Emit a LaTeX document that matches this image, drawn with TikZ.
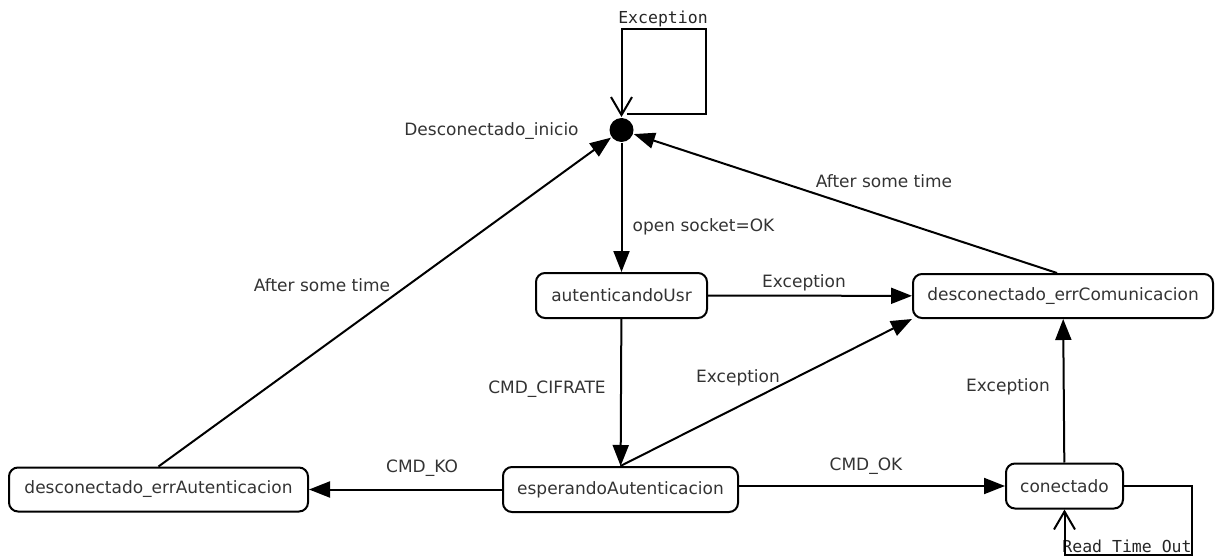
\documentclass[tikz,border=0pt]{standalone}
\usepackage{fontspec}
\setmainfont{DejaVu Sans}
\setmonofont{DejaVu Sans Mono}
\usetikzlibrary{arrows.meta}
\begin{document}
\begin{tikzpicture}[x=1pt,y=-1pt, line width=2pt,
  state/.style={draw, rounded corners=9pt, minimum height=45pt, inner sep=0pt,
    font=\fontsize{17}{20}\selectfont, text=black!80},
  lbl/.style={font=\fontsize{17}{20}\selectfont, text=black!80, inner sep=0pt},
  mlbl/.style={font=\ttfamily\fontsize{16.5}{20}\selectfont, text=black!85, inner sep=0pt},
  arr/.style={-{Triangle[length=21pt,width=16pt]}},
  oarr/.style={-{Straight Barb[length=18pt,width=21pt]}}]
\useasboundingbox (0,0) rectangle (1226,556);

% nodes
\node[circle, fill, minimum size=24pt, inner sep=0pt] (dot) at (621.5,130) {};
\node[state, minimum width=171pt] (auth) at (621.5,295.5) {autenticandoUsr};
\node[state, minimum width=300pt, minimum height=44pt] (errCom) at (1063,296) {desconectado\_errComunicacion};
\node[state, minimum width=235pt] (esp) at (620.5,489.5) {esperandoAutenticacion};
\node[state, minimum width=299pt, minimum height=44pt] (errAuth) at (158.5,489.5) {desconectado\_errAutenticacion};
\node[state, minimum width=117pt] (con) at (1064.5,486) {conectado};

% labels
\node[lbl] (lDot) at (491.5,131) {Desconectado\_inicio};
\node[mlbl] (lLoop1) at (663,19) {Exception};
\node[lbl] (lOpen) at (703.5,227) {open socket=OK};
\node[lbl] (lExc1) at (804,283) {Exception};
\node[lbl] (lAfter1) at (884,181) {After some time};
\node[lbl] (lAfter2) at (322,285) {After some time};
\node[lbl] (lCif) at (547,389) {CMD\_CIFRATE};
\node[lbl] (lExc2) at (738,378) {Exception};
\node[lbl] (lExc3) at (1008,387) {Exception};
\node[lbl] (lKO) at (422,468) {CMD\_KO};
\node[lbl] (lOK) at (866,466) {CMD\_OK};
\node[mlbl] (lRead) at (1127,546) {Read Time Out};

% loop corner coordinates
\coordinate (ls) at (627,114);
\coordinate (lt) at (706,29);
\coordinate (lc) at (1192,555);

% connectors
\draw[arr] (dot) -- (dot |- auth.north);
\draw[arr] (auth) -- (errCom);
\draw[arr] (auth) -- (esp);
\draw[arr] (esp.north) -- (errCom.south west);
\draw[arr] (esp.west |- errAuth) -- (errAuth.east);
\draw[arr] (esp.east |- con) -- (con.west);
\draw[arr] (con) -- (errCom);
\draw[arr] ([xshift=-6pt]errCom.north) -- (dot);
\draw[arr] (errAuth.north) -- (dot);
\draw[oarr] (ls) -| (lt) -| (dot.north);
\draw[oarr] (con.east) -| (lc) -| (con.south);
\end{tikzpicture}
\end{document}
